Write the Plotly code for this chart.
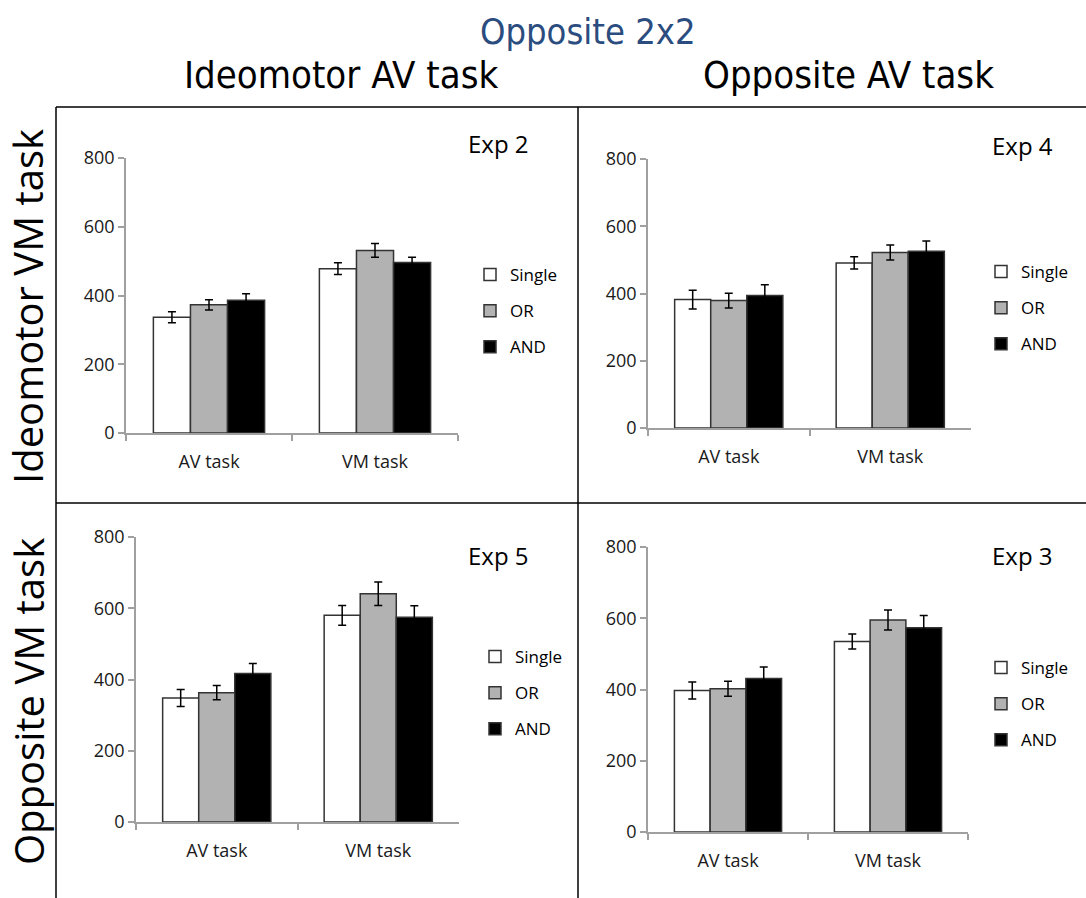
import plotly.graph_objects as go

categories = ["AV task", "VM task"]
series_names = ["Single", "OR", "AND"]
series_colors = ["#FFFFFF", "#B2B2B2", "#000000"]

# Exp 2 (Ideomotor AV / Ideomotor VM)
exp2_single = [337, 478]
exp2_or = [373, 531]
exp2_and = [386, 496]
exp2_single_err = [16, 17]
exp2_or_err = [15, 20]
exp2_and_err = [19, 15]

# Exp 4 (Opposite AV / Ideomotor VM)
exp4_single = [382, 491]
exp4_or = [379, 522]
exp4_and = [394, 526]
exp4_single_err = [28, 18]
exp4_or_err = [22, 22]
exp4_and_err = [32, 30]

# Exp 5 (Ideomotor AV / Opposite VM)
exp5_single = [348, 580]
exp5_or = [363, 641]
exp5_and = [417, 575]
exp5_single_err = [24, 28]
exp5_or_err = [20, 33]
exp5_and_err = [28, 32]

# Exp 3 (Opposite AV / Opposite VM)
exp3_single = [397, 535]
exp3_or = [402, 595]
exp3_and = [431, 573]
exp3_single_err = [24, 21]
exp3_or_err = [21, 28]
exp3_and_err = [32, 35]

y_ticks = [0, 200, 400, 600, 800]

W, H = 1086, 898

panels = [
    dict(name="Exp 2", vals=[exp2_single, exp2_or, exp2_and],
         errs=[exp2_single_err, exp2_or_err, exp2_and_err],
         px=(126, 458), py=(433, 158), leg=(470, 257), lab=(498, 143)),
    dict(name="Exp 4", vals=[exp4_single, exp4_or, exp4_and],
         errs=[exp4_single_err, exp4_or_err, exp4_and_err],
         px=(648, 971), py=(428, 159), leg=(981, 254), lab=(1022, 145)),
    dict(name="Exp 5", vals=[exp5_single, exp5_or, exp5_and],
         errs=[exp5_single_err, exp5_or_err, exp5_and_err],
         px=(136, 459), py=(822, 537), leg=(475, 639), lab=(498, 555)),
    dict(name="Exp 3", vals=[exp3_single, exp3_or, exp3_and],
         errs=[exp3_single_err, exp3_or_err, exp3_and_err],
         px=(648, 968), py=(832, 547), leg=(981, 650), lab=(1022, 555)),
]

small_font = dict(family="Open Sans, Noto Sans, sans-serif", size=18, color="#1a1a1a")
legend_font = dict(family="Open Sans, Noto Sans, sans-serif", size=17, color="#000000")
narrow = "Liberation Sans Narrow, Arial Narrow, DejaVu Sans Condensed, sans-serif"

fig = go.Figure()
layout = dict(
    width=W, height=H,
    margin=dict(l=0, r=0, t=0, b=0, autoexpand=False),
    paper_bgcolor="white", plot_bgcolor="white",
    barmode="group", bargap=0.33, bargroupgap=0,
    annotations=[], shapes=[],
)

for i, p in enumerate(panels):
    k = "" if i == 0 else str(i + 1)
    xa, ya = "x" + k, "y" + k
    lg = "legend" if i == 0 else "legend" + str(i + 1)
    for j, nm in enumerate(series_names):
        fig.add_trace(go.Bar(
            x=categories, y=p["vals"][j], name=nm,
            marker=dict(color=series_colors[j], line=dict(color="#333333", width=1.5)),
            error_y=dict(type="data", array=p["errs"][j], visible=True,
                         color="#000000", thickness=1.5, width=4),
            xaxis=xa, yaxis=ya, legend=lg, legendgroup=nm + str(i),
            showlegend=True,
        ))
    x0, x1 = p["px"]
    yb, yt = p["py"]
    layout["xaxis" + k] = dict(
        domain=[x0 / W, x1 / W], anchor=ya, type="category",
        showline=True, linecolor="#A0A0A0", linewidth=1.5,
        ticks="outside", tickson="boundaries", ticklen=6, tickcolor="#A0A0A0",
        tickwidth=1.5, showgrid=False, zeroline=False, tickfont=small_font,
        ticklabelstandoff=12,
    )
    layout["yaxis" + k] = dict(
        domain=[1 - yb / H, 1 - yt / H], anchor=xa, range=[0, 800],
        tickvals=y_ticks, showline=True, linecolor="#A0A0A0", linewidth=1.5,
        ticks="outside", ticklen=6, tickcolor="#A0A0A0", tickwidth=1.5,
        showgrid=False, zeroline=False, tickfont=small_font,
    )
    lx, ly = p["leg"]
    layout[lg] = dict(
        x=lx / W, y=1 - ly / H, xanchor="left", yanchor="top",
        font=legend_font, bgcolor="rgba(0,0,0,0)", itemwidth=30,
        traceorder="grouped", tracegroupgap=11, itemclick=False,
    )
    layout["annotations"].append(dict(
        x=p["lab"][0] / W, y=1 - p["lab"][1] / H, xref="paper", yref="paper",
        text=p["name"], showarrow=False, xanchor="center", yanchor="middle",
        font=dict(family="Open Sans, Noto Sans, sans-serif", size=24, color="#000000"),
    ))

# headers
layout["annotations"] += [
    dict(x=588 / W, y=1 - 31 / H, xref="paper", yref="paper", text="Opposite 2x2",
         showarrow=False, xanchor="center", yanchor="middle",
         font=dict(family=narrow, size=36, color="#2B4C7E")),
    dict(x=341 / W, y=1 - 75 / H, xref="paper", yref="paper", text="Ideomotor AV task",
         showarrow=False, xanchor="center", yanchor="middle",
         font=dict(family=narrow, size=38, color="#000000")),
    dict(x=848 / W, y=1 - 75 / H, xref="paper", yref="paper", text="Opposite AV task",
         showarrow=False, xanchor="center", yanchor="middle",
         font=dict(family=narrow, size=38, color="#000000")),
    dict(x=28 / W, y=1 - 307 / H, xref="paper", yref="paper", text="Ideomotor VM task",
         showarrow=False, xanchor="center", yanchor="middle", textangle=-90,
         font=dict(family="Open Sans, Noto Sans, sans-serif", size=40, color="#000000")),
    dict(x=28 / W, y=1 - 702 / H, xref="paper", yref="paper", text="Opposite VM task",
         showarrow=False, xanchor="center", yanchor="middle", textangle=-90,
         font=dict(family="Open Sans, Noto Sans, sans-serif", size=40, color="#000000")),
]

# frame lines
frame = dict(type="line", xref="paper", yref="paper", line=dict(color="#000000", width=1.5))
layout["shapes"] += [
    dict(frame, x0=56 / W, x1=1, y0=1 - 107 / H, y1=1 - 107 / H),
    dict(frame, x0=56 / W, x1=56 / W, y0=1 - 107 / H, y1=0),
    dict(frame, x0=578 / W, x1=578 / W, y0=1 - 107 / H, y1=0),
    dict(frame, x0=56 / W, x1=1, y0=1 - 503 / H, y1=1 - 503 / H),
]

fig.update_layout(**layout)
fig.write_html("out.html", config={"displayModeBar": False},
               post_script="document.body.style.margin='0';document.body.style.overflow='hidden';")
